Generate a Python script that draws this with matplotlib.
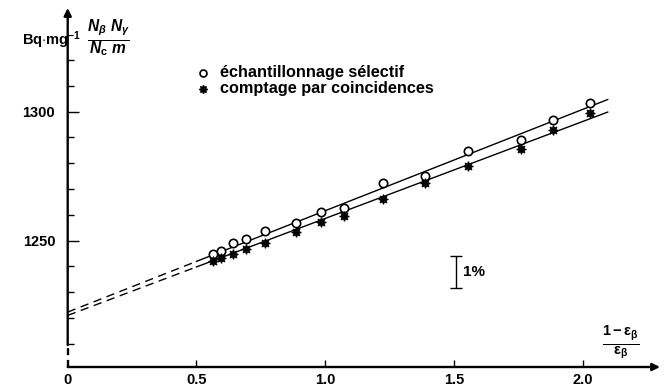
import matplotlib
matplotlib.use("Agg")
import matplotlib.pyplot as plt
import numpy as np

plt.rcParams['font.family'] = ['Liberation Sans', 'DejaVu Sans']
plt.rcParams['font.weight'] = 'bold'
plt.rcParams['mathtext.fontset'] = 'custom'
plt.rcParams['mathtext.rm'] = 'Liberation Sans:bold'
plt.rcParams['mathtext.it'] = 'Liberation Sans:bold:italic'
plt.rcParams['mathtext.bf'] = 'Liberation Sans:bold'
plt.rcParams['mathtext.sf'] = 'Liberation Sans:bold'

# ---- data ----
x_pts = [0.566, 0.597, 0.642, 0.694, 0.766, 0.888, 0.982, 1.071, 1.226, 1.387, 1.556, 1.762, 1.884, 2.030]
y_selectif = [1244.8, 1246.0, 1249.1, 1250.7, 1253.8, 1256.9, 1261.1, 1262.7, 1272.5, 1275.1, 1284.8, 1289.0, 1296.8, 1303.5]
y_coinc = [1242.1, 1243.3, 1244.8, 1246.8, 1249.1, 1253.4, 1257.2, 1259.6, 1266.2, 1272.5, 1279.0, 1285.5, 1292.9, 1299.5]
fit_intercepts = [1222.3, 1221.0]
fit_slopes = [39.3, 37.6]
series_labels = ["échantillonnage sélectif", "comptage par coincidences"]
xtick_vals = [0, 0.5, 1.0, 1.5, 2.0]
xtick_labels = ["0", "0.5", "1.0", "1.5", "2.0"]
ytick_major = [1250, 1300]
ytick_minor = [1210, 1220, 1230, 1240, 1260, 1270, 1280, 1290, 1310, 1320]

XMIN, XMAX = 0.0, 2.30
YMIN, YMAX = 1201.0, 1340.2

fig = plt.figure(figsize=(6.66, 3.91), dpi=100)
ax = fig.add_axes([67.7/666, (391-367)/391, (660-67.7)/666, (367-8)/391])
ax.set_xlim(XMIN, XMAX)
ax.set_ylim(YMIN, YMAX)
for s in ax.spines.values():
    s.set_visible(False)

# axes with arrows
ax.annotate('', xy=(XMAX, YMIN), xytext=(XMIN, YMIN),
            arrowprops=dict(arrowstyle='-|>', lw=1.7, color='k', mutation_scale=11,
                            shrinkA=0, shrinkB=0), annotation_clip=False)
ax.annotate('', xy=(XMIN, YMAX), xytext=(XMIN, 1209.5),
            arrowprops=dict(arrowstyle='-|>', lw=1.7, color='k', mutation_scale=11,
                            shrinkA=0, shrinkB=0), annotation_clip=False)
ax.plot([XMIN, XMIN], [YMIN, 1209.5], color='k', lw=1.7, ls=(0, (3, 2)), clip_on=False)

# ticks
ax.set_xticks(xtick_vals)
ax.set_xticklabels(xtick_labels, fontsize=10.5, fontweight='bold')
ax.tick_params(axis='x', direction='in', length=5, width=1.0, pad=4)
ax.set_yticks(ytick_major)
ax.set_yticklabels([str(v) for v in ytick_major], fontsize=10.5, fontweight='bold')
ax.set_yticks(ytick_minor, minor=True)
ax.tick_params(axis='y', which='major', direction='in', length=8, width=1.0, pad=9)
ax.tick_params(axis='y', which='minor', direction='in', length=4, width=1.0)
ax.xaxis.get_majorticklines()[0].set_visible(False)

# fit lines: dashed extrapolation and solid part
for b, m in zip(fit_intercepts, fit_slopes):
    xd = np.array([0.0, 0.5])
    ax.plot(xd, b + m*xd, color='k', lw=1.0, ls=(0, (6, 4)))
    xs = np.array([0.5, 2.097])
    ax.plot(xs, b + m*xs, color='k', lw=1.0)

star = (8, 1, 0)
ax.plot(x_pts, y_selectif, ls='none', marker='o', ms=6, mfc='white', mec='k', mew=1.2, zorder=3)
ax.plot(x_pts, y_coinc, ls='none', marker=star, ms=7, mfc='k', mec='k', mew=0.8, zorder=3)

# legend drawn manually
ax.plot([0.525], [1315.0], ls='none', marker='o', ms=5, mfc='white', mec='k', mew=1.2, clip_on=False)
ax.plot([0.525], [1308.8], ls='none', marker=star, ms=6, mfc='k', mec='k', clip_on=False)
ax.text(0.59, 1315.0, series_labels[0], fontsize=11.7, fontweight='bold', va='center', ha='left')
ax.text(0.59, 1308.8, series_labels[1], fontsize=11.7, fontweight='bold', va='center', ha='left')

# 1% bar
ax.errorbar([1.507], [1237.9], yerr=[6.25], color='k', lw=1.0, capsize=4, capthick=1.0)
ax.text(1.535, 1237.9, "1%", fontsize=11, fontweight='bold', va='center', ha='left')

# axis labels
fig.text(22/666, 1-40/391, r"Bq$\cdot$mg$^{-1}$", fontsize=10.5, fontweight='bold', ha='left', va='center')
fig.text(108/666, 1-39/391, r"$\frac{N_\beta\ N_\gamma}{N_\mathrm{c}\ m}$", fontsize=16, ha='center', va='center')
fig.text(621/666, 1-343/391, r"$\frac{\mathrm{1 - ε}_\mathrm{β}}{\mathrm{ε}_\mathrm{β}}$", fontsize=15, ha='center', va='center')

fig.savefig("out.png", dpi=100)
